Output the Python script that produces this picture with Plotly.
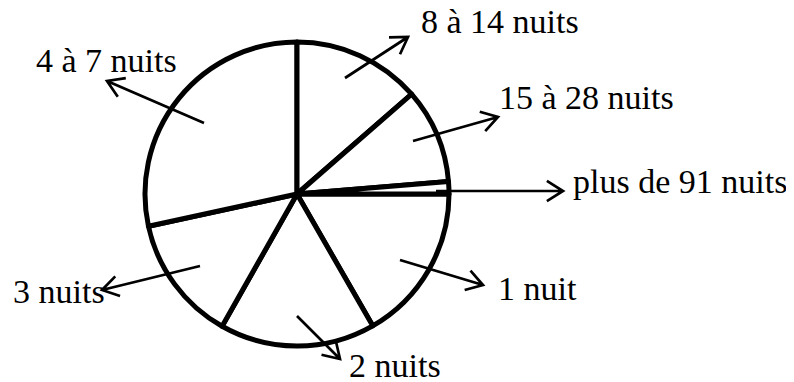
import math
import plotly.graph_objects as go

# the page body keeps its default 8px margin, so the figure is drawn 8px in
W, H = 794, 382
OFF = 8
FW, FH = W - OFF, H - OFF

# Share of stays by length (percent)
durees = ["1 nuit", "2 nuits", "3 nuits", "4 à 7 nuits", "8 à 14 nuits",
          "15 à 28 nuits", "plus de 91 nuits"]
parts = [16.7, 16.5, 13.4, 28.4, 13.6, 10.1, 1.3]

# Label placement (left x, baseline y in page pixels) and arrow (tail -> head)
label_pos = {
    "4 à 7 nuits": (35, 72),
    "8 à 14 nuits": (420, 33),
    "15 à 28 nuits": (498, 109),
    "plus de 91 nuits": (572, 193),
    "1 nuit": (497, 300),
    "2 nuits": (348, 377),
    "3 nuits": (12, 303),
}
arrows = {
    "4 à 7 nuits": ((204, 123), (107, 81)),
    "8 à 14 nuits": ((345, 78), (408, 37)),
    "15 à 28 nuits": ((413, 141), (498, 117)),
    "plus de 91 nuits": ((436, 191), (563, 191)),
    "1 nuit": ((400, 260), (483, 285)),
    "2 nuits": ((297, 316), (340, 359)),
    "3 nuits": ((200, 266), (102, 290)),
}

FONT = dict(family="Liberation Serif", size=34, color="black")


def px(x, y):
    return (x - OFF) / FW, 1 - (y - OFF) / FH


# pie centre and radius in page pixels
cx, cy, r = 297, 194, 152
x0, y1 = px(cx - r, cy - r)
x1, y0 = px(cx + r, cy + r)

fig = go.Figure(go.Pie(
    labels=durees,
    values=parts,
    sort=False,
    direction="clockwise",
    rotation=90,
    textinfo="none",
    hoverinfo="label+percent",
    marker=dict(colors=["white"] * len(parts), line=dict(color="black", width=5)),
    domain=dict(x=[x0, x1], y=[y0, y1]),
    showlegend=False,
))

# open V arrows
wing, half = 19, math.radians(32)
for name, ((tx, ty), (hx, hy)) in arrows.items():
    ang = math.atan2(ty - hy, tx - hx)
    w1 = (hx + wing * math.cos(ang + half), hy + wing * math.sin(ang + half))
    w2 = (hx + wing * math.cos(ang - half), hy + wing * math.sin(ang - half))
    a, b = px(tx, ty), px(hx, hy)
    c, d = px(*w1), px(*w2)
    path = f"M {a[0]} {a[1]} L {b[0]} {b[1]} M {c[0]} {c[1]} L {b[0]} {b[1]} L {d[0]} {d[1]}"
    fig.add_shape(type="path", path=path, xref="paper", yref="paper",
                  line=dict(color="black", width=2.7))

for name, (lx, base) in label_pos.items():
    ax, ay = px(lx, base - 0.33 * FONT["size"])
    fig.add_annotation(x=ax, y=ay, xref="paper", yref="paper", text=name,
                       showarrow=False, xanchor="left", yanchor="middle",
                       borderpad=0, font=FONT)

fig.update_layout(
    width=FW, height=FH,
    margin=dict(l=0, r=0, t=0, b=0),
    paper_bgcolor="white",
    plot_bgcolor="white",
)

fig.write_html("out.html")
